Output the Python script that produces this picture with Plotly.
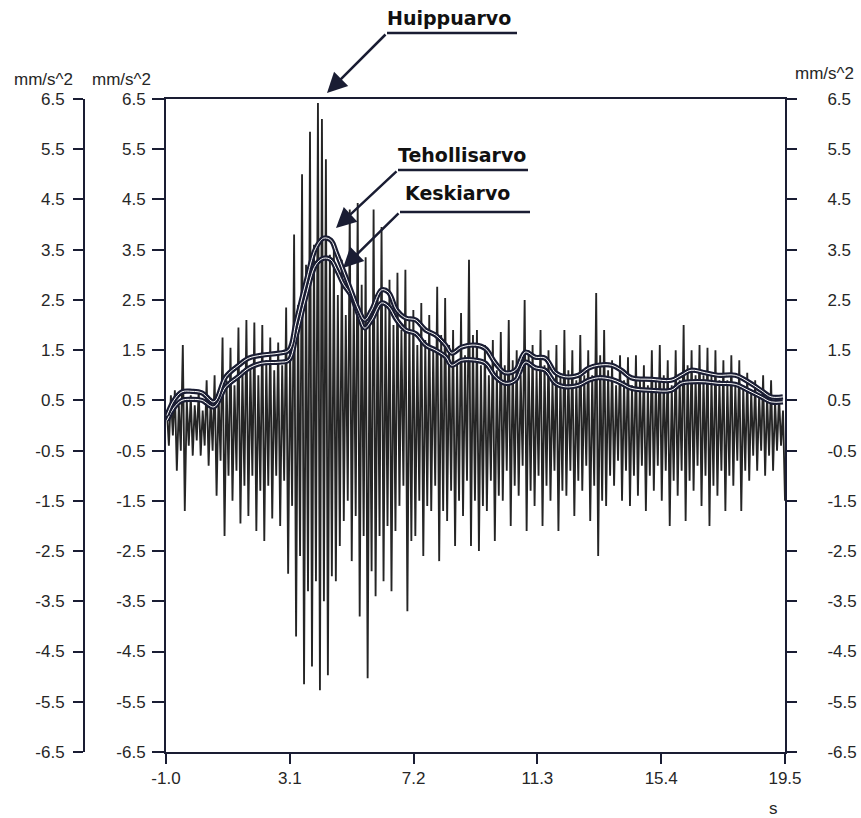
import numpy as np
import plotly.graph_objects as go

# ---- axis ticks ----
x_ticks = [-1.0, 3.1, 7.2, 11.3, 15.4, 19.5]
x_tick_text = ["-1.0", "3.1", "7.2", "11.3", "15.4", "19.5"]
y_ticks = [6.5, 5.5, 4.5, 3.5, 2.5, 1.5, 0.5, -0.5, -1.5, -2.5, -3.5, -4.5, -5.5, -6.5]
y_tick_text = ["6.5", "5.5", "4.5", "3.5", "2.5", "1.5", "0.5",
               "-0.5", "-1.5", "-2.5", "-3.5", "-4.5", "-5.5", "-6.5"]

# ---- vibration signal, one row per oscillation cycle (mm/s^2) ----
peak_main = [0.3, 0.7, 1.6, 0.6, 0.7, 0.9, 1.0, 1.75, 1.55, 1.95,
             2.1, 2.05, 2.0, 1.75, 1.65, 2.35, 3.8, 5.0, 5.85, 6.42,
             5.3, 3.5, 3.3, 4.3, 4.43, 3.35, 4.3, 3.95, 2.9, 3.04,
             3.1, 2.3, 2.44, 2.2, 2.76, 2.54, 1.9, 2.24, 3.3, 1.9,
             1.6, 1.7, 1.86, 2.1, 1.5, 2.5, 1.6, 1.9, 1.5, 1.6,
             1.9, 1.5, 1.8, 1.5, 2.64, 1.9, 1.3, 1.4, 1.36, 1.4,
             1.2, 1.5, 1.6, 1.3, 1.5, 2.0, 1.5, 1.6, 1.55, 1.5,
             1.3, 1.4, 1.3, 1.05, 0.9, 1.0, 0.9, 0.6]
trough_main = [-0.4, -0.9, -1.7, -0.6, -0.6, -0.8, -1.4, -2.2, -1.5, -1.95,
               -1.8, -2.1, -2.3, -1.85, -2.0, -2.95, -4.2, -5.15, -4.8, -5.27,
               -4.97, -3.1, -1.9, -2.7, -3.8, -5.03, -3.4, -3.1, -3.3, -1.6,
               -3.7, -2.2, -2.6, -1.7, -2.7, -1.9, -2.4, -1.8, -2.4, -2.5,
               -1.7, -2.3, -1.5, -2.0, -1.4, -2.1, -1.6, -2.0, -1.5, -2.1,
               -1.4, -1.8, -1.3, -1.9, -2.6, -1.6, -1.2, -1.5, -1.6, -1.4,
               -1.7, -1.3, -1.5, -2.0, -1.4, -1.9, -1.3, -1.6, -2.0, -1.4,
               -1.7, -1.2, -1.7, -1.1, -0.9, -1.0, -0.9, -0.4]
peak_minor = [0.6, 0.4, 0.5, 0.4, 0.3, 0.5, 0.6, 0.9, 0.8, 1.1,
              1.2, 1.0, 1.3, 1.1, 1.2, 1.5, 2.4, 3.2, 3.6, 6.1,
              3.4, 2.6, 2.2, 2.5, 2.8, 2.3, 2.5, 2.4, 2.0, 1.9,
              2.1, 1.6, 1.7, 1.5, 1.8, 1.6, 1.3, 1.4, 1.8, 1.2,
              1.0, 1.1, 1.2, 1.3, 1.0, 1.5, 1.1, 1.2, 0.9, 1.0,
              1.1, 0.9, 1.0, 1.0, 1.4, 1.1, 0.8, 0.9, 0.8, 0.9,
              0.8, 0.9, 1.0, 0.8, 0.9, 1.2, 1.0, 1.0, 1.0, 0.9,
              0.9, 0.8, 0.8, 0.7, 0.6, 0.6, 0.5, 0.3]
trough_minor = [-0.2, -0.5, -0.4, -0.3, -0.4, -0.5, -0.7, -1.0, -0.9, -1.2,
                -1.0, -1.3, -1.2, -1.0, -1.1, -1.6, -2.6, -3.3, -3.1, -3.5,
                -3.0, -2.4, -1.5, -1.8, -2.2, -2.9, -2.2, -2.0, -2.1, -1.2,
                -2.3, -1.5, -1.6, -1.2, -1.7, -1.3, -1.5, -1.1, -1.5, -1.6,
                -1.1, -1.4, -0.9, -1.2, -0.8, -1.3, -1.0, -1.2, -0.9, -1.3,
                -0.9, -1.1, -0.8, -1.2, -1.5, -1.0, -0.7, -0.9, -1.0, -0.8,
                -1.0, -0.8, -0.9, -1.1, -0.9, -1.1, -0.8, -1.0, -1.2, -0.9,
                -1.0, -0.7, -0.9, -0.6, -0.5, -0.6, -0.5, -1.5]

signal = []
for a, b, c, d in zip(peak_main, trough_main, peak_minor, trough_minor):
    signal += [a, b, c, d]
t_signal = np.linspace(-0.97, 19.5, len(signal))

# ---- running RMS (Tehollisarvo) and running mean (Keskiarvo) ----
env_t = [-0.97, -0.74, -0.47, -0.14, 0.19, 0.59, 0.98, 1.41, 1.74, 2.17,
         2.74, 3.07, 3.30, 3.63, 3.96, 4.22, 4.46, 4.65, 4.89, 5.12,
         5.38, 5.58, 5.81, 6.14, 6.37, 6.64, 6.94, 7.27, 7.60, 7.93,
         8.26, 8.46, 8.79, 9.25, 9.58, 9.91, 10.24, 10.57, 10.90, 11.23,
         11.56, 11.90, 12.23, 12.66, 12.99, 13.32, 13.75, 14.08, 14.41, 15.07,
         15.73, 16.06, 16.39, 16.86, 17.28, 17.85, 18.28, 18.71, 19.04, 19.43]
rms_vals = [0.2, 0.5, 0.67, 0.68, 0.65, 0.47, 0.97, 1.2, 1.34, 1.4,
            1.44, 1.5, 2.04, 2.84, 3.53, 3.73, 3.69, 3.43, 3.06, 2.7,
            2.3, 2.1, 2.3, 2.7, 2.65, 2.3, 2.14, 2.1, 1.9, 1.8,
            1.6, 1.44, 1.56, 1.6, 1.53, 1.24, 1.05, 1.1, 1.46, 1.36,
            1.34, 1.05, 0.97, 1.0, 1.14, 1.2, 1.2, 1.1, 0.95, 0.92,
            0.9, 1.0, 1.1, 1.05, 1.0, 1.0, 0.87, 0.7, 0.57, 0.57]
mean_vals = [0.1, 0.35, 0.5, 0.52, 0.5, 0.37, 0.77, 0.98, 1.14, 1.24,
             1.26, 1.3, 1.76, 2.56, 3.2, 3.33, 3.3, 3.1, 2.8, 2.6,
             2.2, 1.94, 2.1, 2.44, 2.37, 2.1, 1.9, 1.83, 1.6, 1.5,
             1.37, 1.2, 1.3, 1.3, 1.24, 0.97, 0.84, 0.9, 1.26, 1.15,
             1.1, 0.84, 0.77, 0.8, 0.9, 0.95, 0.92, 0.84, 0.74, 0.7,
             0.7, 0.84, 0.87, 0.87, 0.84, 0.82, 0.7, 0.57, 0.47, 0.47]

INK = "#1a1d33"
TXT = "#262626"

# figure geometry (pixels) used to place the callouts
W, H = 861, 818
ML, MR, MT, MB = 10, 76, 99, 66


def px(x):
    return (x - ML) / (W - ML - MR)


def py(y):
    return (H - MB - y) / (H - MT - MB)


fig = go.Figure()

fig.add_trace(go.Scatter(x=t_signal, y=signal, mode="lines",
                         line=dict(color="#252525", width=1.85),
                         xaxis="x", yaxis="y", hoverinfo="skip"))

for vals, axis in ((mean_vals, "y2"), (rms_vals, "y3")):
    fig.add_trace(go.Scatter(x=env_t, y=vals, mode="lines",
                             line=dict(color=INK, width=5.2, shape="spline"),
                             xaxis="x", yaxis=axis, hoverinfo="skip"))
    fig.add_trace(go.Scatter(x=env_t, y=vals, mode="lines",
                             line=dict(color="white", width=1.0, shape="spline"),
                             xaxis="x", yaxis=axis, hoverinfo="skip"))

tick_font = dict(family="Liberation Sans, Arial, sans-serif", size=17, color=TXT)
common_y = dict(range=[-6.5, 6.5], tickmode="array", tickvals=y_ticks,
                ticktext=y_tick_text, ticks="outside", tickwidth=2,
                tickcolor=INK, showline=True, linewidth=2, linecolor=INK,
                showgrid=False, zeroline=False, tickfont=tick_font,
                fixedrange=True, automargin=False)

x0_dom = px(166)
fig.update_layout(
    width=W, height=H,
    margin=dict(l=ML, r=MR, t=MT, b=MB, autoexpand=False),
    paper_bgcolor="white", plot_bgcolor="white",
    showlegend=False,
    xaxis=dict(domain=[x0_dom, 1], range=[-1.0, 19.5], tickmode="array",
               tickvals=x_ticks, ticktext=x_tick_text, ticks="outside",
               ticklen=10, tickwidth=2, tickcolor=INK, showline=True,
               linewidth=2, linecolor=INK, mirror=True, showgrid=False,
               zeroline=False, tickfont=tick_font, ticklabelstandoff=0,
               automargin=False),
    yaxis=dict(anchor="x", side="left", ticklen=12, ticklabelstandoff=3,
               **common_y),
    yaxis2=dict(overlaying="y", anchor="free", position=px(84), side="left",
                ticklen=10, ticklabelstandoff=5, **common_y),
    yaxis3=dict(overlaying="y", anchor="x", side="right", ticklen=10,
                ticklabelstandoff=27, **common_y),
)

label_font = dict(family="DejaVu Sans, Verdana, sans-serif", size=19, color="#111111")
unit_font = dict(family="Liberation Sans, Arial, sans-serif", size=17, color=TXT)

annotations = []
# unit captions above the three value axes
for cx, cy in ((43, 80), (121, 80), (824, 74)):
    annotations.append(dict(x=px(cx), y=py(cy), xref="paper", yref="paper",
                            text="mm/s^2", showarrow=False, font=unit_font,
                            xanchor="center", yanchor="middle"))
annotations.append(dict(x=px(773), y=py(808), xref="paper", yref="paper",
                        text="s", showarrow=False, font=unit_font,
                        xanchor="center", yanchor="middle"))

# callouts: label, underline and arrow
callouts = [
    ("Huippuarvo", (449, 18), (387, 517, 33), (327, 93)),
    ("Tehollisarvo", (462, 155), (398, 528, 170), (336, 228)),
    ("Keskiarvo", (457, 193), (400, 530, 212), (343, 268)),
]
shapes = []
for text, (tx, ty), (ux0, ux1, uy), (hx, hy) in callouts:
    annotations.append(dict(x=px(tx), y=py(ty), xref="paper", yref="paper",
                            text="<b>%s</b>" % text, showarrow=False,
                            font=label_font, xanchor="center", yanchor="middle"))
    shapes.append(dict(type="line", xref="paper", yref="paper",
                       x0=px(ux0), x1=px(ux1), y0=py(uy), y1=py(uy),
                       line=dict(color=INK, width=2.5)))
    annotations.append(dict(x=px(hx), y=py(hy), xref="paper", yref="paper",
                            text="", showarrow=True, ax=ux0 - hx, ay=uy - hy,
                            arrowhead=2, arrowsize=1.6, arrowwidth=2.5,
                            arrowcolor=INK, standoff=0, startstandoff=0))

fig.update_layout(annotations=annotations, shapes=shapes)

fig.write_html("out.html")
